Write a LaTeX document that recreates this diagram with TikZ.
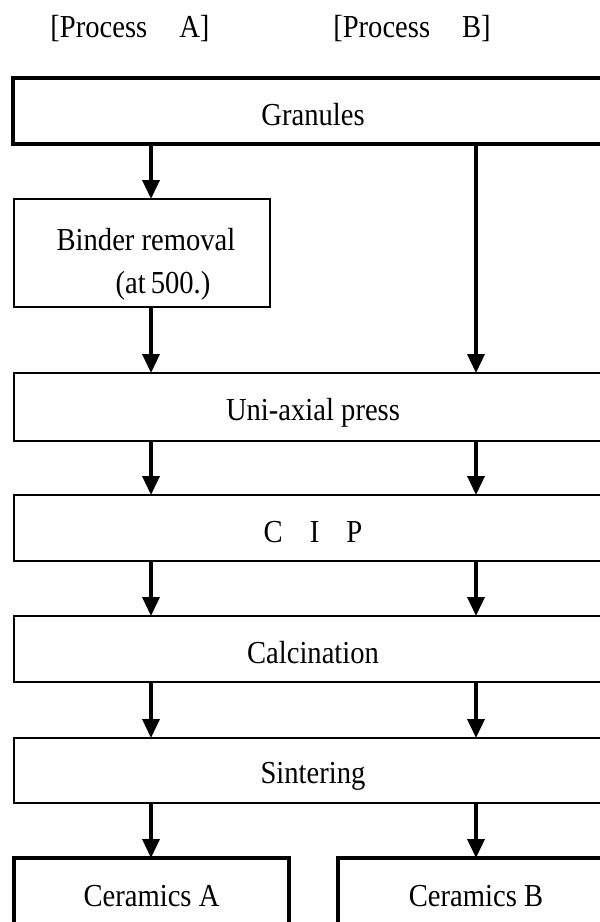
\documentclass[tikz,border=0pt]{standalone}
\usepackage{graphicx}
\usepackage{fontspec}
\setmainfont{Liberation Serif}
\usetikzlibrary{arrows.meta}
\newcommand\vtxt[1]{\scalebox{1}[1.12]{#1}}
\begin{document}
\begin{tikzpicture}[x=1pt,y=1pt,
  every node/.style={font=\fontsize{28.6}{34}\selectfont, inner sep=0pt, outer sep=0pt},
  thinbox/.style={draw, line width=1.2pt, rectangle},
  thickbox/.style={draw, line width=3.5pt, rectangle},
  lbl/.style={anchor=base},
  flow/.style={line width=3.5pt, -{Triangle[width=17pt,length=19pt]}}
]
\useasboundingbox (0,0) rectangle (600,-922);
\clip (0,0) rectangle (600,-922);
\coordinate (colA) at (151,0);
\coordinate (colB) at (476,0);
% headings
\node[lbl] (pA) at (130,-37) {\vtxt{[Process\hspace{32pt}A]}};
\node[lbl] (pB) at (412,-37) {\vtxt{[Process\hspace{32pt}B]}};
% boxes
\node[thickbox, minimum width=600pt, minimum height=66pt] (gran) at (313,-111) {};
\node[lbl] (granT) at (313,-125) {\vtxt{Granules}};
\node[thinbox, minimum width=256pt, minimum height=108pt] (bind) at (142,-253) {};
\node[lbl] (bindT1) at (146,-250) {\vtxt{Binder removal}};
\node[lbl] (bindT2) at (163,-293) {\vtxt{(at\hspace{5pt}500.)}};
\node[thinbox, minimum width=598pt, minimum height=68pt] (uni) at (313,-407) {};
\node[lbl] (uniT) at (313,-420) {\vtxt{Uni-axial press}};
\node[thinbox, minimum width=598pt, minimum height=66pt] (cip) at (313,-528) {};
\node[lbl] (cipT) at (313,-542) {\vtxt{C\hspace{27pt}I\hspace{27pt}P}};
\node[thinbox, minimum width=598pt, minimum height=66pt] (calc) at (313,-649) {};
\node[lbl] (calcT) at (313,-663) {\vtxt{Calcination}};
\node[thinbox, minimum width=598pt, minimum height=65pt] (sint) at (313,-770.5) {};
\node[lbl] (sintT) at (313,-783) {\vtxt{Sintering}};
\node[thickbox, minimum width=275pt, minimum height=104pt] (cerA) at (151.5,-910) {};
\node[lbl] (cerAT) at (151.5,-906) {\vtxt{Ceramics A}};
\node[thickbox, minimum width=276pt, minimum height=104pt] (cerB) at (476,-910) {};
\node[lbl] (cerBT) at (476,-906) {\vtxt{Ceramics B}};
% connectors
\draw[flow] (gran.south -| colA) -- (bind.north -| colA);
\draw[flow] (bind.south -| colA) -- (uni.north -| colA);
\draw[flow] (gran.south -| colB) -- (uni.north -| colB);
\draw[flow] (uni.south -| colA) -- (cip.north -| colA);
\draw[flow] (uni.south -| colB) -- (cip.north -| colB);
\draw[flow] (cip.south -| colA) -- (calc.north -| colA);
\draw[flow] (cip.south -| colB) -- (calc.north -| colB);
\draw[flow] (calc.south -| colA) -- (sint.north -| colA);
\draw[flow] (calc.south -| colB) -- (sint.north -| colB);
\draw[flow] (sint.south -| colA) -- (cerA.north -| colA);
\draw[flow] (sint.south -| colB) -- (cerB.north -| colB);
\end{tikzpicture}
\end{document}
